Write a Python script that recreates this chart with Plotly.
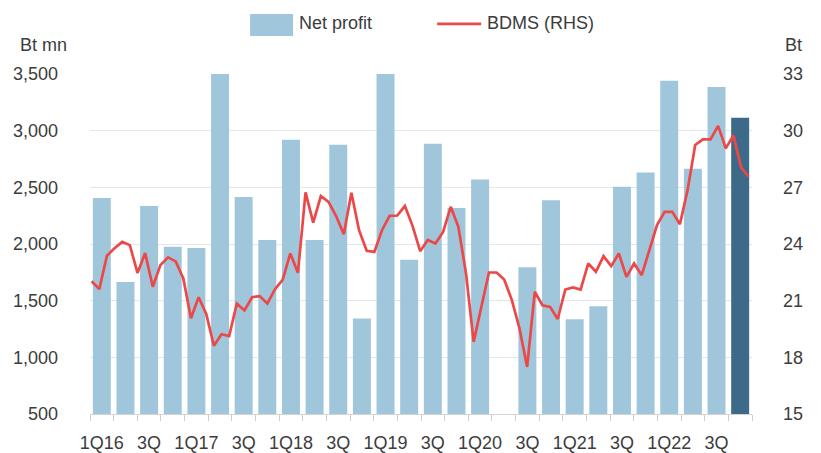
import numpy as np
import plotly.graph_objects as go

# ---- data ----
quarters = ["1Q16", "2Q16", "3Q16", "4Q16", "1Q17", "2Q17", "3Q17", "4Q17",
            "1Q18", "2Q18", "3Q18", "4Q18", "1Q19", "2Q19", "3Q19", "4Q19",
            "1Q20", "2Q20", "3Q20", "4Q20", "1Q21", "2Q21", "3Q21", "4Q21",
            "1Q22", "2Q22", "3Q22", "4Q22"]
net_profit = [2405, 1665, 2335, 1975, 1965, 3700, 2415, 2035,
              2920, 2035, 2875, 1343, 3700, 1860, 2885, 2318,
              2570, 485, 1795, 2385, 1335, 1450, 2505, 2630,
              3440, 2665, 3385, 3115]
tick_positions = [0, 2, 4, 6, 8, 10, 12, 14, 16, 18, 20, 22, 24, 26]
tick_labels = ["1Q16", "3Q", "1Q17", "3Q", "1Q18", "3Q", "1Q19", "3Q",
               "1Q20", "3Q", "1Q21", "3Q", "1Q22", "3Q"]
bdms_price = [22.03, 21.61, 23.38, 23.78, 24.11, 23.94, 22.47, 23.52, 21.74, 22.88,
              23.29, 23.08, 22.18, 20.07, 21.18, 20.30, 18.61, 19.22, 19.12, 20.85,
              20.48, 21.18, 21.24, 20.85, 21.61, 22.10, 23.50, 22.48, 26.73, 25.13,
              26.54, 26.23, 25.48, 24.52, 26.71, 24.73, 23.64, 23.58, 24.73, 25.49,
              25.51, 26.01, 24.96, 23.62, 24.21, 24.03, 24.64, 25.97, 24.91, 22.44,
              18.82, 20.67, 22.49, 22.49, 22.12, 21.03, 19.53, 17.49, 21.47, 20.76,
              20.67, 20.03, 21.59, 21.70, 21.59, 22.97, 22.53, 23.36, 22.83, 23.50,
              22.26, 22.97, 22.35, 23.68, 25.00, 25.70, 25.70, 25.05, 26.85, 29.24,
              29.54, 29.54, 30.25, 29.06, 29.75, 28.06, 27.56]

light_blue = "#A0C6DC"
dark_blue = "#3E6A8A"
red = "#EC4848"
txt = "#3c3c3c"
FONT = "Liberation Sans, Arial, sans-serif"

bar_x = list(range(len(quarters)))
bar_colors = [light_blue] * (len(quarters) - 1) + [dark_blue]
line_x = np.linspace(-0.43, 27.36, len(bdms_price))

fig = go.Figure()
fig.add_trace(go.Bar(x=bar_x, y=net_profit, marker=dict(color=bar_colors, line=dict(width=0)),
                     name="Net profit", hovertext=quarters, showlegend=False))
fig.add_trace(go.Scatter(x=line_x, y=bdms_price, mode="lines", name="BDMS (RHS)",
                         line=dict(color=red, width=2.7), yaxis="y2", showlegend=False))

W, H = 821, 453
L, R, T, B = 90, 69.3, 74, 39.3
pw, ph = W - L - R, H - T - B


def px(xp):
    return (xp - L) / pw


def py(yp):
    return (H - B - yp) / ph


fig.update_layout(
    width=W, height=H,
    margin=dict(l=L, r=R, t=T, b=B, pad=0, autoexpand=False),
    paper_bgcolor="white", plot_bgcolor="white",
    font=dict(family=FONT, size=18, color=txt),
    bargap=0.24,
    showlegend=False,
    xaxis=dict(range=[-0.5, 27.5], tickmode="array", tickvals=tick_positions, ticktext=tick_labels,
               ticks="", showgrid=False, zeroline=False, showline=True, linecolor="#d4d4d4",
               linewidth=1, ticklabelstandoff=12, automargin=False,
               minor=dict(tickmode="linear", tick0=-0.5, dtick=1, ticks="outside", ticklen=6,
                          tickcolor="#cfcfcf", tickwidth=1, showgrid=False)),
    yaxis=dict(range=[500, 3500], dtick=500, tick0=500, tickformat=",", showgrid=True,
               gridcolor="#e6e6e6", gridwidth=1, zeroline=False, showline=False, ticks="",
               ticklabelstandoff=31, automargin=False),
    yaxis2=dict(range=[15, 33], dtick=3, tick0=15, overlaying="y", side="right", showgrid=False,
                zeroline=False, showline=False, ticks="", ticklabelstandoff=30, automargin=False),
)

# legend drawn manually to match the original's large swatches
fig.add_shape(type="rect", xref="paper", yref="paper", x0=px(250), x1=px(293), y0=py(36), y1=py(14),
              fillcolor=light_blue, line=dict(width=0))
fig.add_shape(type="line", xref="paper", yref="paper", x0=px(437), x1=px(481), y0=py(24), y1=py(24),
              line=dict(color=red, width=2.7))
fig.add_annotation(text="Net profit", xref="paper", yref="paper", x=px(297), y=py(23),
                   xanchor="left", yanchor="middle", showarrow=False, font=dict(size=18, color=txt))
fig.add_annotation(text="BDMS (RHS)", xref="paper", yref="paper", x=px(485), y=py(23),
                   xanchor="left", yanchor="middle", showarrow=False, font=dict(size=18, color=txt))
fig.add_annotation(text="Bt mn", xref="paper", yref="paper", x=px(44), y=py(45),
                   xanchor="center", yanchor="middle", showarrow=False, font=dict(size=18, color=txt))
fig.add_annotation(text="Bt", xref="paper", yref="paper", x=px(793), y=py(45),
                   xanchor="center", yanchor="middle", showarrow=False, font=dict(size=18, color=txt))

fig.write_html("out.html")
